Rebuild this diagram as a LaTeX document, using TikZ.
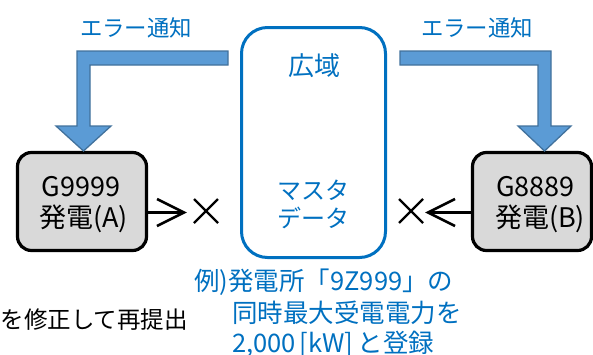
\documentclass[tikz,border=0pt]{standalone}
\usepackage{fontspec}
\usetikzlibrary{calc}
\newfontfamily\jp{Noto Sans CJK JP}
\definecolor{ablue}{HTML}{0070C0}
\definecolor{afill}{HTML}{5B9BD5}
\definecolor{aedge}{HTML}{41719C}
\definecolor{gfill}{HTML}{D9D9D9}
\tikzset{
  genbox/.style={draw=black, line width=3.2pt, fill=gfill, rounded corners=14pt},
  widebox/.style={draw=ablue, line width=3pt, rounded corners=26pt},
  fatarrow/.style={fill=afill, draw=aedge, line width=1.3pt, line join=miter},
  btxt/.style={text=ablue, font=\jp\fontsize{22.4}{26}\selectfont, inner sep=0pt},
  wtxt/.style={text=ablue, font=\jp\fontsize{24}{28}\selectfont, inner sep=0pt},
  ntxt/.style={text=ablue, font=\jp\fontsize{25.5}{30}\selectfont, inner sep=0pt},
  ktxt/.style={text=black, font=\jp\fontsize{23.5}{28}\selectfont, inner sep=0pt},
  gtxt/.style={text=black, font=\jp\fontsize{27}{32}\selectfont, inner sep=0pt},
  conn/.style={draw=black, line width=2.6pt},
  xmark/.style={draw=black, line width=2.4pt},
}
\begin{document}
\begin{tikzpicture}[x=1pt,y=-1pt]
\useasboundingbox (0,0) rectangle (593,354);
% boxes
\draw[widebox] (241.5,27.5) rectangle (385.5,257.5);
\node (wide) at (313.5,142) {};
\draw[genbox] (17.5,152.5) rectangle (146.5,250.5);
\node (ga) at (82,201.5) {};
\draw[genbox] (472.5,152.5) rectangle (591.5,250.5);
% texts
\node[wtxt, font=\jp\fontsize{26}{30}\selectfont] (koiki) at (314,66) {広域};
\node[wtxt] (masuta) at (313.5,190) {マスタ};
\node[wtxt] (deta) at (313.5,218) {データ};
\node[gtxt] (ga1) at (81,187) {G9999};
\node[gtxt] (ga2) at (83.5,219) {発電(A)};
\node[gtxt] (gb1) at (535.5,187) {G8889};
\node[gtxt] (gb2) at (540,219) {発電(B)};
\node[btxt] (errL) at (136,28) {エラー通知};
\node[btxt] (errR) at (477,28) {エラー通知};
\node[ntxt, anchor=west] (n1) at (194,282) {例)発電所「9Z999」の};
\node[ntxt, anchor=west] (n2) at (232,313) {同時最大受電電力を};
\node[ntxt, anchor=west] (n3) at (232,344) {2,000\kern4pt[kW]\kern4pt と登録};
\node[ktxt, anchor=east] (fix) at (188,320) {を修正して再提出};
% fat arrows
\draw[fatarrow] (228,51) -- (77,51) -- (77,126) -- (56,126) -- (83.5,151) -- (111,126) -- (90,126) -- (90,65) -- (228,65) -- cycle;
\draw[fatarrow] (400,51) -- (551,51) -- (551,126) -- (571,126) -- (544.5,151) -- (518,126) -- (538,126) -- (538,65) -- (400,65) -- cycle;
% connectors
\coordinate (tipL) at (184,212.5);
\coordinate (tipR) at (428,212.5);
\coordinate (boxAr) at (148,212.5);
\coordinate (boxBl) at (471,212.5);
\draw[conn] (boxAr) -- (tipL);
\draw[conn, line join=miter] (157,199) -- (tipL) -- (157,226);
\draw[conn] (boxBl) -- (tipR);
\draw[conn, line join=miter] (455,199) -- (tipR) -- (455,226);
% crosses
\coordinate (xL) at (206,211);
\coordinate (xR) at (411,211);
\draw[xmark] ($(xL)+(-12,-12)$) -- ($(xL)+(12,12)$);
\draw[xmark] ($(xL)+(-12,12)$) -- ($(xL)+(12,-12)$);
\draw[xmark] ($(xR)+(-12,-12)$) -- ($(xR)+(12,12)$);
\draw[xmark] ($(xR)+(-12,12)$) -- ($(xR)+(12,-12)$);
\end{tikzpicture}
\end{document}
